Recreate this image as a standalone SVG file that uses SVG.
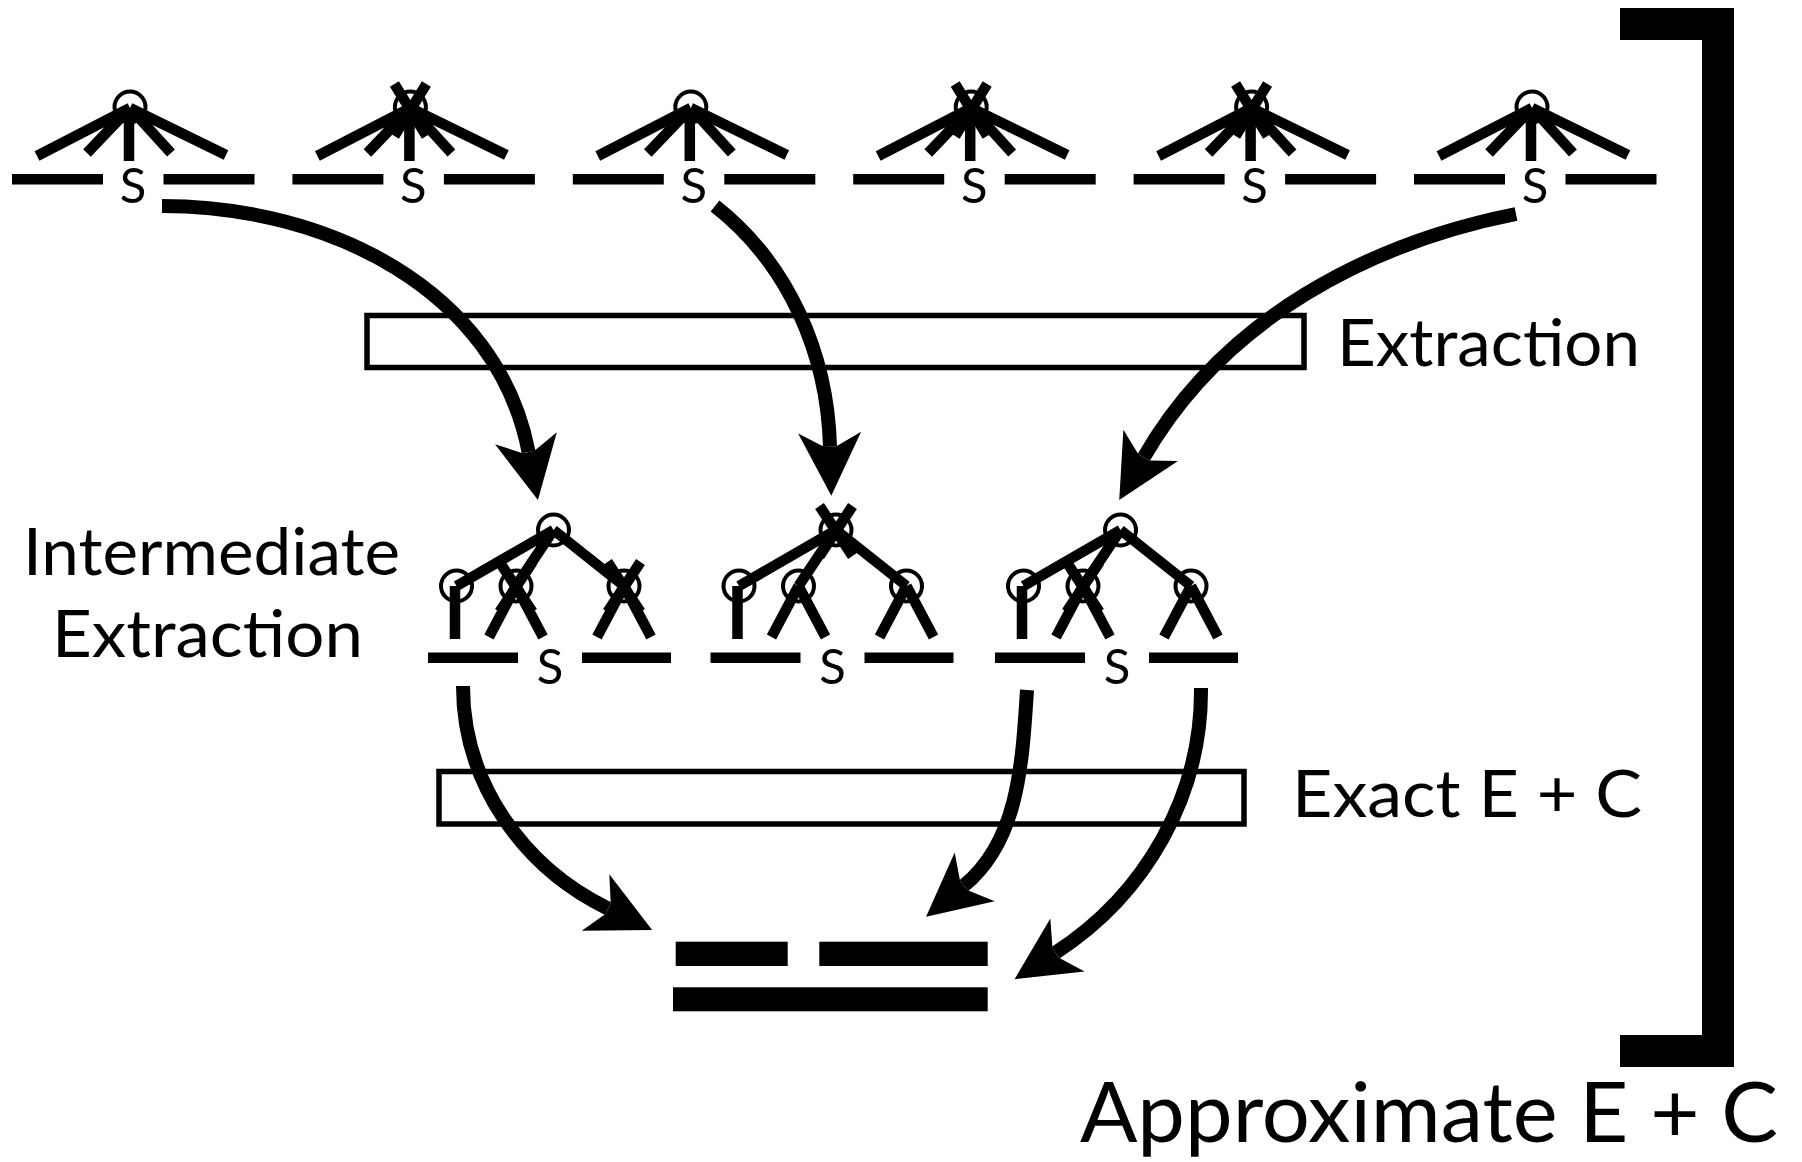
<svg xmlns="http://www.w3.org/2000/svg" width="1802" height="1162" viewBox="0 0 1802 1162">
<style>
.br{stroke:#000;stroke-width:10.5;fill:none;stroke-linecap:butt}
.nd{stroke:#000;stroke-width:4;fill:none}
.x{stroke:#000;stroke-width:10.5;fill:none}
.s{font-family:Lato,"Liberation Sans",sans-serif;font-size:49px;text-anchor:middle;fill:#000}
.lbl{font-family:Lato,"Liberation Sans",sans-serif;font-size:66px;fill:#000}
.big{font-family:Lato,"Liberation Sans",sans-serif;font-size:84px;fill:#000}
.box{fill:none;stroke:#000;stroke-width:5.5}
.arr{fill:none;stroke:#000;stroke-width:14;marker-end:url(#ah)}
</style>
<defs>
<marker id="ah" markerUnits="userSpaceOnUse" viewBox="-20 -40 80 80" markerWidth="80" markerHeight="80" refX="0" refY="0" orient="auto" overflow="visible"><path d="M49,0 L-14,-31.5 L0,-6 L0,6 L-14,31.5 Z" fill="#000"/></marker>
</defs>
<rect width="1802" height="1162" fill="#fff"/>

<!-- top row -->
<g id="top1" transform="translate(130,0)">
<path class="br" d="M0,108 L-93,156 M0,108 L-43,153 M-1,108 L-1,161 M0,108 L41,153 M0,108 L96,155"/>
<circle class="nd" cx="0" cy="107" r="15.5"/>
<rect x="-118" y="174" width="91" height="10.5"/><rect x="33.5" y="174" width="91" height="10.5"/>
<text class="s" x="3" y="203">S</text>
</g>
<g id="top2" transform="translate(410.4,0)">
<path class="br" d="M0,108 L-93,156 M0,108 L-43,153 M-1,108 L-1,161 M0,108 L41,153 M0,108 L96,155"/>
<circle class="nd" cx="0" cy="107" r="15.5"/>
<path class="x" d="M-16,84 L16,136 M16,84 L-16,136"/>
<rect x="-118" y="174" width="91" height="10.5"/><rect x="33.5" y="174" width="91" height="10.5"/>
<text class="s" x="3" y="203">S</text>
</g>
<g id="top3" transform="translate(690.8,0)">
<path class="br" d="M0,108 L-93,156 M0,108 L-43,153 M-1,108 L-1,161 M0,108 L41,153 M0,108 L96,155"/>
<circle class="nd" cx="0" cy="107" r="15.5"/>
<rect x="-118" y="174" width="91" height="10.5"/><rect x="33.5" y="174" width="91" height="10.5"/>
<text class="s" x="3" y="203">S</text>
</g>
<g id="top4" transform="translate(971.2,0)">
<path class="br" d="M0,108 L-93,156 M0,108 L-43,153 M-1,108 L-1,161 M0,108 L41,153 M0,108 L96,155"/>
<circle class="nd" cx="0" cy="107" r="15.5"/>
<path class="x" d="M-16,84 L16,136 M16,84 L-16,136"/>
<rect x="-118" y="174" width="91" height="10.5"/><rect x="33.5" y="174" width="91" height="10.5"/>
<text class="s" x="3" y="203">S</text>
</g>
<g id="top5" transform="translate(1251.6,0)">
<path class="br" d="M0,108 L-93,156 M0,108 L-43,153 M-1,108 L-1,161 M0,108 L41,153 M0,108 L96,155"/>
<circle class="nd" cx="0" cy="107" r="15.5"/>
<path class="x" d="M-16,84 L16,136 M16,84 L-16,136"/>
<rect x="-118" y="174" width="91" height="10.5"/><rect x="33.5" y="174" width="91" height="10.5"/>
<text class="s" x="3" y="203">S</text>
</g>
<g id="top6" transform="translate(1532,0)">
<path class="br" d="M0,108 L-93,156 M0,108 L-43,153 M-1,108 L-1,161 M0,108 L41,153 M0,108 L96,155"/>
<circle class="nd" cx="0" cy="107" r="15.5"/>
<rect x="-118" y="174" width="91" height="10.5"/><rect x="33.5" y="174" width="91" height="10.5"/>
<text class="s" x="3" y="203">S</text>
</g>

<!-- intermediate row -->
<g id="midA" transform="translate(553.5,0)">
<path class="br" d="M0,530 L-97,586 M0,530 L-37.5,586 M0,530 L70.5,586 M-98.5,586 L-98.5,639 M-37.5,586 L-64.5,637 M-37.5,586 L-10.5,637 M70.5,586 L43.5,637 M70.5,586 L97.5,637"/>
<circle class="nd" cx="0" cy="530" r="15.5"/>
<circle class="nd" cx="-97" cy="586" r="15.5"/>
<circle class="nd" cx="-37.5" cy="586" r="15.5"/>
<circle class="nd" cx="70.5" cy="586" r="15.5"/>
<path class="x" d="M-54,562 L-21,612 M-21,562 L-54,612 M54,562 L87,612 M87,562 L54,612"/>
<rect x="-125.5" y="652.5" width="90" height="10.5"/><rect x="28.5" y="652.5" width="89" height="10.5"/>
<text class="s" x="-3.5" y="684">S</text>
</g>
<g id="midB" transform="translate(836,0)">
<path class="br" d="M0,530 L-97,586 M0,530 L-37.5,586 M0,530 L70.5,586 M-98.5,586 L-98.5,639 M-37.5,586 L-64.5,637 M-37.5,586 L-10.5,637 M70.5,586 L43.5,637 M70.5,586 L97.5,637"/>
<circle class="nd" cx="0" cy="530" r="15.5"/>
<circle class="nd" cx="-97" cy="586" r="15.5"/>
<circle class="nd" cx="-37.5" cy="586" r="15.5"/>
<circle class="nd" cx="70.5" cy="586" r="15.5"/>
<path class="x" d="M-16.5,506 L16.5,556 M16.5,506 L-16.5,556"/>
<rect x="-125.5" y="652.5" width="90" height="10.5"/><rect x="28.5" y="652.5" width="89" height="10.5"/>
<text class="s" x="-3.5" y="684">S</text>
</g>
<g id="midC" transform="translate(1120.5,0)">
<path class="br" d="M0,530 L-97,586 M0,530 L-37.5,586 M0,530 L70.5,586 M-98.5,586 L-98.5,639 M-37.5,586 L-64.5,637 M-37.5,586 L-10.5,637 M70.5,586 L43.5,637 M70.5,586 L97.5,637"/>
<circle class="nd" cx="0" cy="530" r="15.5"/>
<circle class="nd" cx="-97" cy="586" r="15.5"/>
<circle class="nd" cx="-37.5" cy="586" r="15.5"/>
<circle class="nd" cx="70.5" cy="586" r="15.5"/>
<path class="x" d="M-54,562 L-21,612 M-21,562 L-54,612"/>
<rect x="-125.5" y="652.5" width="90" height="10.5"/><rect x="28.5" y="652.5" width="89" height="10.5"/>
<text class="s" x="-3.5" y="684">S</text>
</g>

<!-- stage boxes and labels -->
<g id="extraction">
<rect class="box" x="367" y="315.5" width="937" height="52"/>
<text class="lbl" x="1337" y="366" textLength="303" lengthAdjust="spacingAndGlyphs">Extraction</text>
</g>
<g id="exact">
<rect class="box" x="439" y="771.5" width="805" height="52.5"/>
<text class="lbl" x="1292" y="817" textLength="350" lengthAdjust="spacingAndGlyphs">Exact E + C</text>
</g>
<g id="intermediate-label">
<text class="lbl" x="23" y="575" textLength="377" lengthAdjust="spacingAndGlyphs">Intermediate</text>
<text class="lbl" x="52" y="657" textLength="311" lengthAdjust="spacingAndGlyphs">Extraction</text>
</g>

<!-- result -->
<g id="result">
<rect x="675.7" y="941.7" width="112" height="24.3"/>
<rect x="819.3" y="941.7" width="168.4" height="24.3"/>
<rect x="673" y="987.3" width="314.7" height="24"/>
</g>

<!-- bracket -->
<g id="approx">
<path d="M1620,8 H1734 V1067 H1620 V1035 H1702 V40 H1620 Z" fill="#000"/>
<text class="big" x="1080" y="1142" textLength="698" lengthAdjust="spacingAndGlyphs">Approximate E + C</text>
</g>

<g id="connectors">
<path class="arr" d="M162,206 C328,206 497,289.3 528.6,452"/>
<path class="arr" d="M715,206 C788.6,263.8 827.5,353.5 830,446.7"/>
<path class="arr" d="M1516,214 C1370,243 1224,318 1143.7,457.5"/>
<path class="arr" d="M463,686 C463,781.8 521.9,866.6 608.1,908.6"/>
<path class="arr" d="M1027,690 C1022,770 1017,842 963.9,885.7"/>
<path class="arr" d="M1201,688 C1202,795.4 1145.9,894.2 1055.7,952.6"/>
</g>
</svg>
